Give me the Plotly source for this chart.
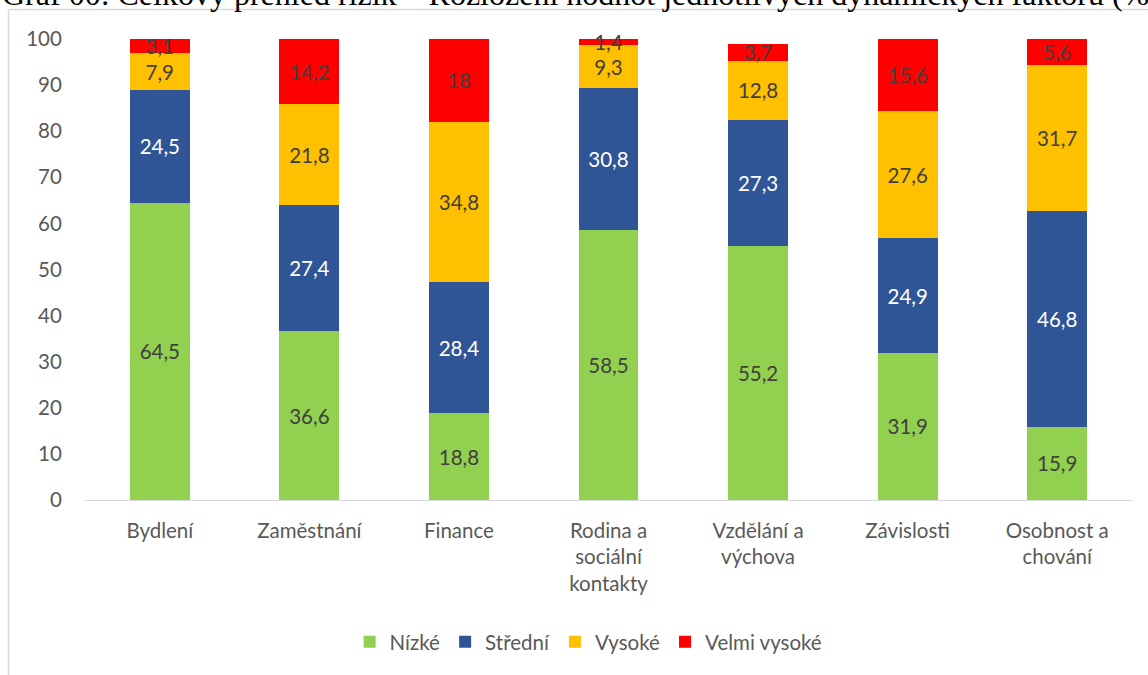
import plotly.graph_objects as go

categories = ["Bydlení", "Zaměstnání", "Finance", "Rodina a<br>sociální<br>kontakty",
              "Vzdělání a<br>výchova", "Závislosti", "Osobnost a<br>chování"]
nizke = [64.5, 36.6, 18.8, 58.5, 55.2, 31.9, 15.9]
stredni = [24.5, 27.4, 28.4, 30.8, 27.3, 24.9, 46.8]
vysoke = [7.9, 21.8, 34.8, 9.3, 12.8, 27.6, 31.7]
velmi_vysoke = [3.1, 14.2, 18, 1.4, 3.7, 15.6, 5.6]
y_ticks = list(range(0, 101, 10))

series = [
    ("Nízké", nizke, "#92D050", "#404040"),
    ("Střední", stredni, "#2F5597", "#FFFFFF"),
    ("Vysoké", vysoke, "#FFC000", "#404040"),
    ("Velmi vysoké", velmi_vysoke, "#FF0000", "#404040"),
]

FONT = "Lato, 'Open Sans', sans-serif"
FS = 20.5


def fmt(v):
    return f"{v:g}".replace(".", ",")


fig = go.Figure()
for name, vals, color, txtcolor in series:
    fig.add_trace(go.Bar(
        x=categories, y=vals, name=name,
        marker=dict(color=color, line=dict(width=0)),
        text=[fmt(v) for v in vals],
        textposition="inside", insidetextanchor="middle",
        constraintext="none", cliponaxis=False,
        textfont=dict(family=FONT, size=FS, color=txtcolor),
        hoverinfo="skip",
    ))

fig.update_layout(
    barmode="stack", bargap=0.6,
    width=1148, height=675,
    margin=dict(l=85, r=16, t=39, b=175),
    paper_bgcolor="white", plot_bgcolor="white",
    font=dict(family=FONT, size=FS, color="#595959"),
    showlegend=True,
    legend=dict(orientation="h", x=0.481, xanchor="center", y=-0.308, yanchor="middle",
                font=dict(family=FONT, size=FS, color="#595959"),
                itemsizing="constant", traceorder="normal", itemwidth=30),
    uniformtext=dict(mode=False),
)
fig.update_yaxes(range=[0, 100], tickvals=y_ticks, showgrid=False, zeroline=False,
                 showline=False, ticks="outside", ticklen=18, tickcolor="rgba(0,0,0,0)",
                 tickfont=dict(family=FONT, size=FS, color="#595959"))
fig.update_xaxes(showgrid=False, showline=True, linecolor="#D9D9D9", linewidth=1,
                 ticks="outside", ticklen=12, tickcolor="rgba(0,0,0,0)",
                 tickfont=dict(family=FONT, size=FS, color="#595959"))

# chart frame edges
fig.add_shape(type="line", xref="paper", yref="paper", x0=-0.0731, x1=1.05, y0=1.064, y1=1.064,
              line=dict(color="#D9D9D9", width=1.5))
fig.add_shape(type="line", xref="paper", yref="paper", x0=-0.0731, x1=-0.0731, y0=1.064, y1=-0.5,
              line=dict(color="#D9D9D9", width=1.5))

fig.add_annotation(
    text="Graf 00: Celkový přehled rizik – Rozložení hodnot jednotlivých dynamických faktorů (%)",
    xref="paper", yref="paper", x=-0.0812, xanchor="left", y=1.054, yanchor="bottom",
    showarrow=False, font=dict(family="Liberation Serif", size=32, color="black"),
)

fig.write_html("out.html")
